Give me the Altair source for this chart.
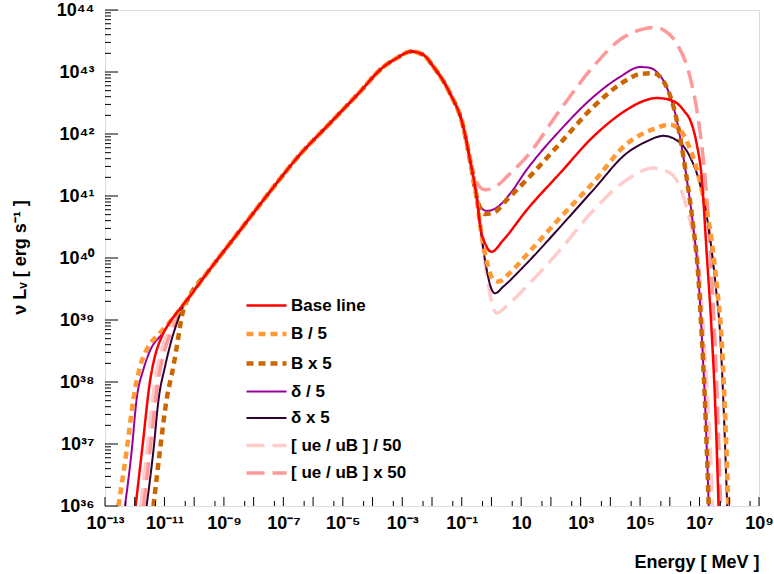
import altair as alt
import pandas as pd

# ---------------- data (log10 values) ----------------
series_names = ["Base line", "B / 5", "B x 5", "δ / 5", "δ x 5",
                "[ ue / uB ] / 50", "[ ue / uB ] x 50"]
series_colors = ["#ff0000", "#ff9933", "#cc6600", "#990099", "#330033",
                 "#ffcccc", "#ff9999"]
series_dash = [[1, 0], [7, 5], [7, 5], [1, 0], [1, 0], [18, 8], [18, 8]]
series_width = [2.5, 4.5, 4.5, 2, 2, 3.5, 3.5]
draw_order = ["[ ue / uB ] / 50", "[ ue / uB ] x 50", "δ / 5", "δ x 5",
              "B x 5", "B / 5", "Base line"]

# shared synchrotron part
sync_logE = [-10.2, -9.5, -8.5, -7.5, -6.44, -5.5, -4.5, -3.64, -3.2, -2.7,
             -2.3, -1.96, -1.4, -0.95, -0.72, -0.5]
sync_logL = [39.35, 39.8, 40.42, 41.04, 41.67, 42.14, 42.64, 43.08, 43.22, 43.33,
             43.28, 43.09, 42.66, 42.12, 41.58, 40.99]

# low-energy ends
base_low_E = [-11.97, -11.73, -11.49, -11.3, -11.1, -10.8, -10.5]
base_low_L = [36.0, 37.0, 38.0, 38.45, 38.72, 38.98, 39.17]
bdiv_low_E = [-12.55, -12.27, -12.05, -11.82, -11.6, -11.15, -10.76, -10.48]
bdiv_low_L = [36.0, 36.9, 37.71, 38.25, 38.52, 38.79, 39.0, 39.17]
bmul_low_E = [-11.37, -11.15, -10.93, -10.7, -10.53, -10.42, -10.3]
bmul_low_L = [36.0, 36.9, 37.71, 38.25, 38.73, 39.05, 39.25]
ddiv_low_E = [-12.33, -12.1, -11.94, -11.71, -11.49, -11.04, -10.76, -10.48]
ddiv_low_L = [36.0, 36.9, 37.71, 38.2, 38.5, 38.8, 39.0, 39.17]
dmul_low_E = [-11.6, -11.37, -11.2, -10.98, -10.76, -10.53, -10.35]
dmul_low_L = [36.0, 36.9, 37.71, 38.25, 38.68, 39.02, 39.24]
udiv_low_E = [-11.8, -11.56, -11.32, -11.13, -10.95, -10.7, -10.45]
udiv_low_L = [36.0, 37.0, 38.0, 38.45, 38.72, 38.98, 39.17]
umul_low_E = [-11.7, -11.46, -11.22, -11.03, -10.85, -10.6, -10.4]
umul_low_L = [36.0, 37.0, 38.0, 38.45, 38.72, 38.98, 39.2]

# dip + inverse-Compton hump
base_ic_E = [-0.39, -0.16, -0.08, 0.0, 0.4, 1.18, 2.31, 3.43, 4.55, 5.1, 5.56, 6.0,
             6.23, 6.5, 6.68, 6.9, 7.07, 7.24, 7.41, 7.52, 7.64]
base_ic_L = [40.56, 40.18, 40.12, 40.1, 40.29, 40.77, 41.37, 41.96, 42.39, 42.53,
             42.58, 42.55, 42.5, 42.36, 42.23, 41.85, 41.31, 40.08, 38.79, 37.71, 36.0]
bdiv_ic_E = [-0.39, -0.16, 0.05, 0.24, 0.6, 1.18, 2.31, 3.43, 4.55, 5.45, 6.01, 6.34,
             6.68, 6.9, 7.1, 7.34, 7.61, 7.73, 7.84, 7.97]
bdiv_ic_L = [40.56, 39.95, 39.66, 39.62, 39.75, 40.05, 40.65, 41.22, 41.84, 42.08,
             42.15, 42.07, 41.76, 41.45, 41.05, 40.5, 39.43, 38.79, 37.71, 36.0]
bmul_ic_E = [-0.38, -0.22, 0.1, 0.5, 1.18, 2.31, 3.43, 4.55, 5.0, 5.45, 5.89, 6.23,
             6.56, 6.79, 6.96, 7.07, 7.18, 7.31]
bmul_ic_L = [40.8, 40.71, 40.74, 40.93, 41.26, 41.85, 42.44, 42.87, 42.97, 42.98,
             42.76, 42.23, 41.31, 40.5, 39.7, 38.79, 37.71, 36.0]
ddiv_ic_E = [-0.4, -0.3, -0.16, 0.2, 0.6, 1.18, 2.31, 3.43, 4.32, 5.0, 5.3, 5.56,
             5.89, 6.23, 6.56, 6.79, 6.96, 7.07, 7.18, 7.31]
ddiv_ic_L = [40.86, 40.79, 40.76, 40.82, 41.02, 41.42, 42.06, 42.6, 42.92, 43.08,
             43.07, 43.0, 42.76, 42.23, 41.31, 40.5, 39.7, 38.79, 37.71, 36.0]
dmul_ic_E = [-0.39, -0.16, 0.0, 0.12, 0.4, 1.18, 2.31, 3.43, 4.55, 5.22, 5.78, 6.23,
             6.68, 7.01, 7.3, 7.57, 7.69, 7.8, 7.93]
dmul_ic_L = [40.56, 39.81, 39.5, 39.43, 39.54, 39.91, 40.5, 41.1, 41.69, 41.88,
             41.97, 41.9, 41.63, 41.2, 40.5, 39.43, 38.79, 37.71, 36.0]
udiv_ic_E = [-0.39, -0.16, 0.0, 0.18, 0.5, 1.18, 2.31, 3.43, 4.55, 5.45, 6.01, 6.46,
             6.79, 7.01, 7.12, 7.25, 7.36, 7.43]
udiv_ic_L = [40.56, 39.75, 39.3, 39.11, 39.22, 39.54, 40.13, 40.77, 41.26, 41.45,
             41.37, 40.99, 40.34, 39.7, 38.9, 37.9, 36.9, 36.0]
umul_ic_E = [-0.6, -0.45, -0.22, 0.2, 0.6, 1.18, 2.31, 3.43, 4.32, 5.0, 5.5, 5.78,
             6.23, 6.68, 6.96, 7.13, 7.27, 7.42, 7.55, 7.64, 7.71]
umul_ic_L = [41.38, 41.18, 41.1, 41.17, 41.35, 41.63, 42.39, 43.09, 43.52, 43.68,
             43.72, 43.68, 43.46, 42.92, 42.23, 41.58, 40.8, 39.6, 38.3, 37.1, 36.0]

# tick labels
x_label_exp = [-13, -11, -9, -7, -5, -3, -1, 1, 3, 5, 7, 9]
x_label_text = ["10⁻¹³", "10⁻¹¹", "10⁻⁹", "10⁻⁷", "10⁻⁵", "10⁻³", "10⁻¹",
                "10", "10³", "10⁵", "10⁷", "10⁹"]
y_label_exp = [36, 37, 38, 39, 40, 41, 42, 43, 44]
y_label_text = ["10³⁶", "10³⁷", "10³⁸", "10³⁹", "10⁴⁰", "10⁴¹", "10⁴²", "10⁴³", "10⁴⁴"]

# ---------------- build table ----------------
pieces = {
    "Base line": (base_low_E, base_low_L, sync_logE, sync_logL, base_ic_E, base_ic_L),
    "B / 5": (bdiv_low_E, bdiv_low_L, sync_logE, sync_logL, bdiv_ic_E, bdiv_ic_L),
    "B x 5": (bmul_low_E, bmul_low_L, sync_logE, sync_logL, bmul_ic_E, bmul_ic_L),
    "δ / 5": (ddiv_low_E, ddiv_low_L, sync_logE, sync_logL, ddiv_ic_E, ddiv_ic_L),
    "δ x 5": (dmul_low_E, dmul_low_L, sync_logE, sync_logL, dmul_ic_E, dmul_ic_L),
    "[ ue / uB ] / 50": (udiv_low_E, udiv_low_L, sync_logE, sync_logL, udiv_ic_E, udiv_ic_L),
    "[ ue / uB ] x 50": (umul_low_E, umul_low_L, sync_logE[:-1], sync_logL[:-1],
                         umul_ic_E, umul_ic_L),
}
rows = []
for name, (le, ll, se, sl, ie, il) in pieces.items():
    xs = list(le) + list(se) + list(ie)
    ys = list(ll) + list(sl) + list(il)
    for k, (a, b) in enumerate(zip(xs, ys)):
        rows.append({"series": name, "E": 10.0 ** a, "L": 10.0 ** b, "k": k})
df = pd.DataFrame(rows)

x_major = pd.DataFrame({"E": [10.0 ** k for k in range(-13, 10)]})
x_minor = pd.DataFrame({"E": [5 * 10.0 ** k for k in range(-13, 9)]})
y_major = pd.DataFrame({"L": [10.0 ** k for k in range(36, 45)]})
y_minor = pd.DataFrame({"L": [m * 10.0 ** k for k in range(36, 44) for m in range(2, 10)]})

W, H = 654, 496
FONT = "Liberation Sans"
xscale = alt.Scale(type="log", domain=[1e-13, 1e9], nice=False)
yscale = alt.Scale(type="log", domain=[1e36, 1e44], nice=False)

x_expr = "[" + ",".join("'%s'" % t for t in x_label_text) + "][round((log(datum.value)/LN10+13)/2)]"
y_expr = "[" + ",".join("'%s'" % t for t in y_label_text) + "][round(log(datum.value)/LN10)-36]"

x_axis = alt.Axis(values=[10.0 ** e for e in x_label_exp], labelExpr=x_expr,
                  ticks=False, domain=False, grid=False, labelFlush=False,
                  labelOverlap=False, labelFont=FONT, labelFontSize=18,
                  labelFontWeight="bold", labelColor="black", labelPadding=8,
                  title="Energy [ MeV ]", titleFont=FONT, titleFontSize=18,
                  titleFontWeight="bold", titleColor="black", titleAnchor="end",
                  titleAlign="right", titleX=W, titleY=61, titleBaseline="alphabetic")
y_axis = alt.Axis(values=[10.0 ** e for e in y_label_exp], labelExpr=y_expr,
                  ticks=False, domain=False, grid=False, labelFlush=False,
                  labelOverlap=False, labelFont=FONT, labelFontSize=18,
                  labelFontWeight="bold", labelColor="black", labelPadding=11,
                  title="ν Lᵥ  [ erg s⁻¹ ]", titleFont=FONT, titleFontSize=18,
                  titleFontWeight="bold", titleColor="black", titleAngle=270,
                  titleX=-80, titleY=247, titleAlign="center",
                  titleBaseline="alphabetic")

# legend symbol: a horizontal stroke 40 px long (path scaled by sqrt(size)/2)
legend = alt.Legend(orient="none", legendX=149, legendY=284, title=None,
                    symbolType="M-2,0H2", symbolSize=400, labelFont=FONT,
                    labelFontSize=17, labelFontWeight="bold", labelColor="black",
                    labelOffset=12, rowPadding=7.5, labelLimit=400)

color_enc = alt.Color("series:N", scale=alt.Scale(domain=series_names, range=series_colors),
                      legend=legend)
dash_enc = alt.StrokeDash("series:N", scale=alt.Scale(domain=series_names, range=series_dash),
                          legend=legend)
width_enc = alt.StrokeWidth("series:N",
                            scale=alt.Scale(type="ordinal", domain=series_names,
                                            range=series_width),
                            legend=legend)

x_enc = alt.X("E:Q", scale=xscale, axis=x_axis)
y_enc = alt.Y("L:Q", scale=yscale, axis=y_axis)

layers = []
for name in draw_order:
    layers.append(
        alt.Chart(df).transform_filter(alt.datum.series == name)
        .mark_line(interpolate="monotone", clip=True, strokeCap="butt")
        .encode(x=x_enc, y=y_enc, color=color_enc, strokeDash=dash_enc,
                strokeWidth=width_enc, order="k:Q")
    )

def xticks(d, length):
    return alt.Chart(d).mark_rule(color="black", strokeWidth=1).encode(
        x=x_enc, y=alt.value(H), y2=alt.value(H - length))

def yticks(d, length):
    return alt.Chart(d).mark_rule(color="black", strokeWidth=1).encode(
        y=y_enc, x=alt.value(0), x2=alt.value(length))

chart = alt.layer(
    *layers,
    xticks(x_major, 9), xticks(x_minor, 5), yticks(y_major, 13), yticks(y_minor, 6),
).properties(
    width=W, height=H,
    autosize=alt.AutoSizeParams(type="none"),
    padding={"left": 105, "top": 10, "right": 15, "bottom": 68},
).configure_view(stroke="black", strokeWidth=2).configure(background="white")

chart.save("out.html", embed_options={"renderer": "svg", "actions": False})
